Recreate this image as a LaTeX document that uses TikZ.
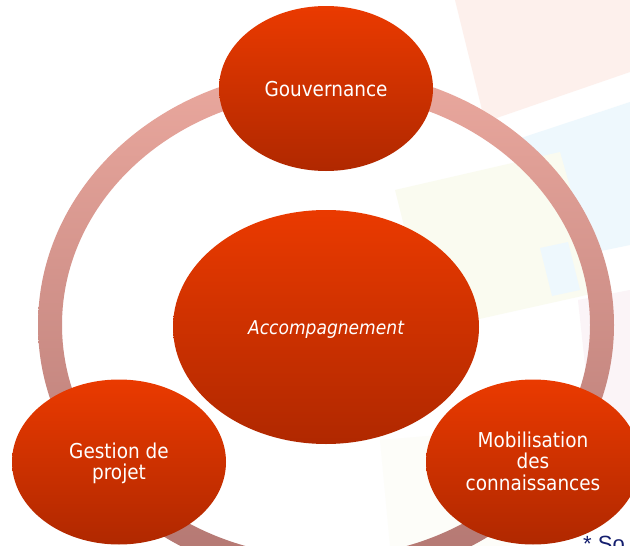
\documentclass[tikz,border=0pt]{standalone}
\usepackage{fontspec}
\newfontfamily\lblfont{DejaVu Sans}[FakeStretch=0.9]
\usetikzlibrary{shapes.geometric}
\definecolor{ovtop}{RGB}{234,58,0}
\definecolor{ovbot}{RGB}{176,40,0}
\definecolor{ringtop}{RGB}{234,168,158}
\definecolor{ringbot}{RGB}{178,118,113}
\definecolor{bgpink}{RGB}{253,240,236}
\definecolor{bgblue}{RGB}{238,248,253}
\definecolor{bgyellow}{RGB}{250,251,240}
\definecolor{bglav}{RGB}{251,244,247}
\definecolor{navy}{RGB}{20,30,110}
\tikzset{
  oval/.style={ellipse, inner sep=0pt, draw=none, top color=ovtop, bottom color=ovbot},
  small/.style={oval, minimum width=214pt, minimum height=165pt},
  big/.style={oval, minimum width=306pt, minimum height=234pt},
  lbl/.style={anchor=base, inner sep=0pt, text=white, font=\lblfont\fontsize{20.5}{22}\selectfont},
  lblit/.style={lbl, font=\lblfont\itshape\fontsize{19}{21}\selectfont},
}
\begin{document}
\begin{tikzpicture}[x=1pt,y=-1pt]
\useasboundingbox (0,0) rectangle (630,546);
\fill[white] (0,0) rectangle (630,546);
% faint background patches
\fill[bgpink] (455,0) -- (630,0) -- (630,72) -- (485,122) -- cycle;
\fill[bgblue] (515,140) -- (630,102) -- (630,245) -- (548,262) -- cycle;
\fill[bgyellow] (395,190) -- (560,152) -- (600,292) -- (430,330) -- cycle;
\fill[bgblue] (540,248) -- (568,242) -- (580,290) -- (552,296) -- cycle;
\fill[bglav] (578,300) -- (630,290) -- (630,420) -- (592,430) -- cycle;
\fill[bgyellow!40!white] (380,440) -- (500,430) -- (510,546) -- (390,546) -- cycle;
% ring
\shade[top color=ringtop, bottom color=ringbot, even odd rule]
  (326,325) ellipse [x radius=288, y radius=256]
  (326,325) ellipse [x radius=264, y radius=232];
% ellipses
\node[small] (gov) at (326,88.5) {};
\node[big] (acc) at (326,327) {};
\node[small] (gest) at (119,462) {};
\node[small] (mob) at (533,462) {};
% labels
\node[lbl] (govt) at (326,96) {Gouvernance};
\node[lblit] (acct) at (326,334) {Accompagnement};
\node[lbl] (gest1) at (119,458) {Gestion de};
\node[lbl] (gest2) at (119,479.5) {projet};
\node[lbl] (mob1) at (533,447) {Mobilisation};
\node[lbl] (mob2) at (533,468.5) {des};
\node[lbl] (mob3) at (533,490) {connaissances};
\node[anchor=north west, inner sep=0pt, text=navy, font=\fontspec{Liberation Sans}\fontsize{22}{24}\selectfont] (src) at (583,536) {* So};
\end{tikzpicture}
\end{document}
